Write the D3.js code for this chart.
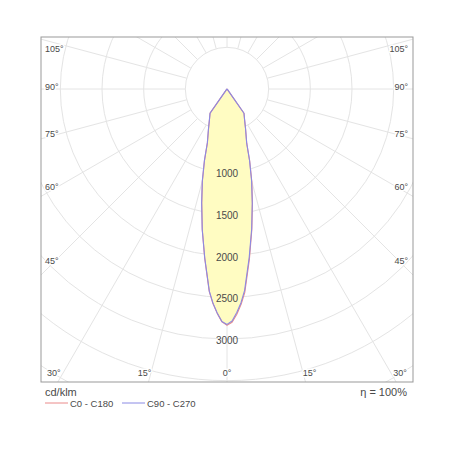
<!DOCTYPE html>
<html>
<head>
<meta charset="utf-8">
<script src="https://cdn.jsdelivr.net/npm/d3@7"></script>
<style>
  body { margin: 0; background: #fff; }
  text { font-family: "Liberation Sans", Arial, sans-serif; fill: #4a4a4a; }
</style>
</head>
<body>
<svg id="chart" width="450" height="450"></svg>
<script>
// gamma angles (deg from nadir) and intensities in cd/klm
const gammas = [0, 1.25, 2.5, 3.75, 5, 7.5, 10, 12.5, 15, 17.5, 20, 25, 30, 35, 40, 90];
const c0 = [2835, 2800, 2705, 2590, 2450, 2060, 1715, 1410, 1150, 905, 692, 528, 422, 356, 10, 0];
const c180 = [2835, 2795, 2695, 2580, 2440, 2050, 1710, 1400, 1140, 898, 688, 524, 420, 354, 10, 0];
const c90 = [2825, 2785, 2685, 2570, 2425, 2040, 1705, 1400, 1140, 900, 690, 526, 421, 355, 10, 0];
const c270 = [2825, 2790, 2690, 2575, 2435, 2045, 1712, 1405, 1145, 902, 690, 526, 421, 355, 10, 0];

const ringTicks = [500, 1000, 1500, 2000, 2500, 3000, 3500, 4000, 4500, 5000, 5500];
const ringLabels = [1000, 1500, 2000, 2500, 3000];
const spokes = d3.range(0, 360, 15);
const sideLabels = [105, 90, 75, 60, 45];
const bottomLabels = [30, 15, 0];

const legend = [
  { name: "C0 - C180", color: "#ea8a8a" },
  { name: "C90 - C270", color: "#8a8ae4" },
];

const svg = d3.select("#chart");
const frame = { left: 41, top: 37, right: 413, bottom: 382 };
const cx = 227, cy = 89;

const r = d3.scaleLinear().domain([0, 3000]).range([0, 250]);

svg.append("clipPath").attr("id", "clip")
  .append("rect")
  .attr("x", frame.left).attr("y", frame.top)
  .attr("width", frame.right - frame.left)
  .attr("height", frame.bottom - frame.top);

const g = svg.append("g").attr("clip-path", "url(#clip)");
const plot = g.append("g").attr("transform", `translate(${cx},${cy})`);

// Grid rings
plot.selectAll("circle.ring")
  .data(ringTicks)
  .join("circle")
  .attr("class", "ring")
  .attr("r", (d) => r(d))
  .attr("fill", "none")
  .attr("stroke", "#e4e4e4")
  .attr("stroke-width", 1);

// Spokes, starting at first ring
plot.selectAll("line.spoke")
  .data(spokes)
  .join("line")
  .attr("class", "spoke")
  .attr("x1", (d) => r(500) * Math.sin((d * Math.PI) / 180))
  .attr("y1", (d) => r(500) * Math.cos((d * Math.PI) / 180))
  .attr("x2", (d) => r(8000) * Math.sin((d * Math.PI) / 180))
  .attr("y2", (d) => r(8000) * Math.cos((d * Math.PI) / 180))
  .attr("stroke", "#e4e4e4")
  .attr("stroke-width", 1);

// Build closed polygon: right half (first plane) then left half (opposite plane)
function curvePoints(right, left) {
  const rad = Math.PI / 180;
  const pts = gammas.map((gm, i) => [Math.PI - gm * rad, r(right[i])]);
  const back = gammas.map((gm, i) => [Math.PI + gm * rad, r(left[i])]).reverse();
  return pts.concat(back.slice(0, -1));
}

const line = d3.lineRadial().curve(d3.curveLinearClosed);
const series = [
  { pts: curvePoints(c0, c180), color: legend[0].color },
  { pts: curvePoints(c90, c270), color: legend[1].color },
];

plot.selectAll("path.fill")
  .data(series)
  .join("path")
  .attr("class", "fill")
  .attr("d", (d) => line(d.pts))
  .attr("fill", "#fffcc2")
  .attr("stroke", "none");

plot.selectAll("path.outline")
  .data(series)
  .join("path")
  .attr("class", "outline")
  .attr("d", (d) => line(d.pts))
  .attr("fill", "none")
  .attr("stroke", (d) => d.color)
  .attr("stroke-width", 1.1)
  .attr("stroke-linejoin", "round");

// Intensity labels along the nadir axis
plot.selectAll("text.rlab")
  .data(ringLabels)
  .join("text")
  .attr("class", "rlab")
  .attr("x", 0)
  .attr("y", (d) => r(d) + 5)
  .attr("text-anchor", "middle")
  .attr("font-size", 10)
  .attr("fill", "#3a3a3a")
  .text((d) => d);

// Frame
svg.append("rect")
  .attr("x", frame.left).attr("y", frame.top)
  .attr("width", frame.right - frame.left)
  .attr("height", frame.bottom - frame.top)
  .attr("fill", "none")
  .attr("stroke", "#999")
  .attr("stroke-width", 1);

// Angle labels on the sides
const halo = (sel) => sel
  .attr("stroke", "#fff").attr("stroke-width", 3)
  .attr("paint-order", "stroke").attr("stroke-linejoin", "round");

sideLabels.forEach((a) => {
  const y = Math.max(cy + 174 / Math.tan((a * Math.PI) / 180) - 2, 49);
  svg.append("text").attr("x", frame.left + 4).attr("y", y + 3)
    .attr("font-size", 9).call(halo).text(a + "°");
  svg.append("text").attr("x", frame.right - 5).attr("y", y + 3)
    .attr("text-anchor", "end").attr("font-size", 9).call(halo).text(a + "°");
});

bottomLabels.forEach((a) => {
  const dx = (frame.bottom - cy) * Math.tan((a * Math.PI) / 180);
  const xs = a === 0 ? [cx] : [cx - dx - 4, cx + dx + 4];
  xs.forEach((x) => {
    svg.append("text").attr("x", x).attr("y", 376)
      .attr("text-anchor", "middle").attr("font-size", 9).call(halo).text(a + "°");
  });
});

// Footer
svg.append("text").attr("x", 45).attr("y", 396).attr("font-size", 11).text("cd/klm");
svg.append("text").attr("x", 407).attr("y", 396).attr("text-anchor", "end")
  .attr("font-size", 11).text("η = 100%");

const leg = svg.selectAll("g.leg")
  .data(legend)
  .join("g")
  .attr("class", "leg")
  .attr("transform", (d, i) => `translate(${45 + i * 77},403)`);
leg.append("line").attr("x1", 0).attr("x2", 23).attr("y1", 0).attr("y2", 0)
  .attr("stroke", (d) => d.color).attr("stroke-width", 1);
leg.append("text").attr("x", 25).attr("y", 3.5).attr("font-size", 9.5).text((d) => d.name);
</script>
</body>
</html>
